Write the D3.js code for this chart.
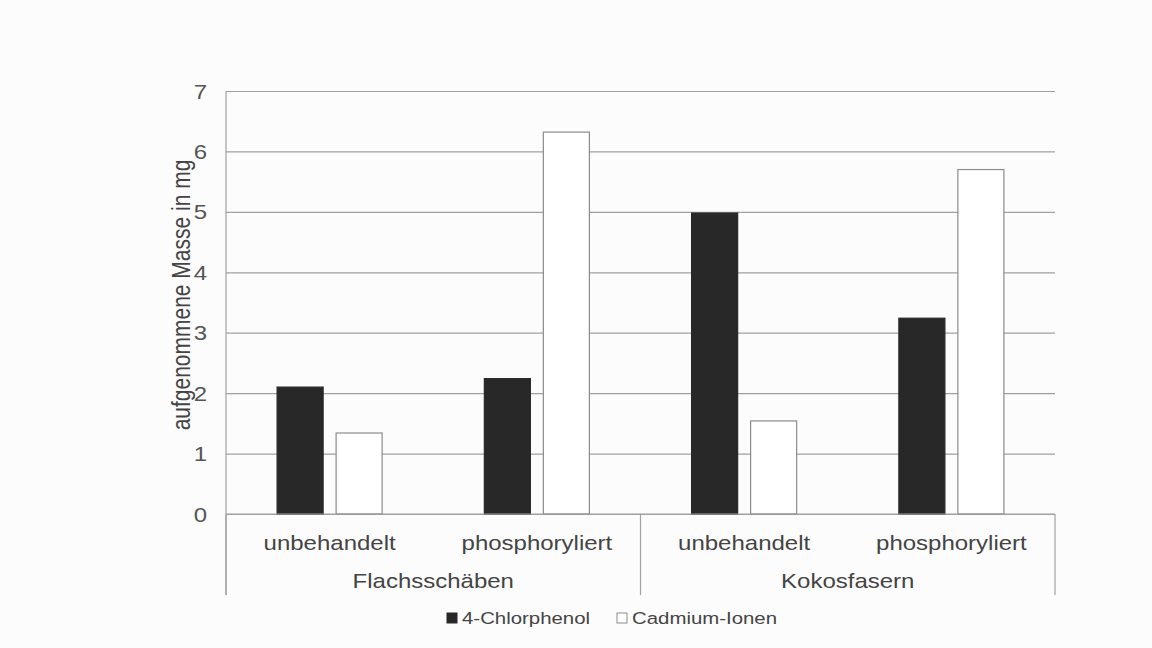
<!DOCTYPE html>
<html>
<head>
<meta charset="utf-8">
<script src="https://cdn.jsdelivr.net/npm/d3@7"></script>
<style>
  html, body { margin: 0; padding: 0; background: #fcfcfc; }
  svg { display: block; }
  text { font-family: "Liberation Sans", Arial, sans-serif; fill: #444; }
</style>
</head>
<body>
<svg id="chart" width="1152" height="648"></svg>
<script>
const groups = ["Flachsschäben", "Kokosfasern"];
const treatments = ["unbehandelt", "phosphoryliert"];
const seriesNames = ["4-Chlorphenol", "Cadmium-Ionen"];
const chlorphenol = [2.10, 2.24, 4.98, 3.24];
const cadmium = [1.34, 6.32, 1.54, 5.70];
const yTicks = [0, 1, 2, 3, 4, 5, 6, 7];
const yTitle = "aufgenommene Masse in mg";

const seriesFill = ["#282828", "#ffffff"];
const seriesStroke = ["#282828", "#8c8c8c"];
const SX = 1.2; // horizontal stretch of the scanned original

const svg = d3.select("#chart");
const margin = { left: 226, right: 1055, top: 91, bottom: 514 };

const cats = [];
groups.forEach(g => treatments.forEach(t => cats.push(g + "|" + t)));
const rows = cats.map((c, i) => ({ cat: c, values: [chlorphenol[i], cadmium[i]] }));

const x0 = d3.scaleBand().domain(cats).range([margin.left, margin.right]).padding(0);
const x1 = d3.scaleBand().domain(seriesNames).range([0, x0.bandwidth()])
  .paddingInner(0.22).paddingOuter(0.866);
const xg = d3.scaleBand().domain(groups).range([margin.left, margin.right]).padding(0);
const y = d3.scaleLinear().domain([0, 7]).range([margin.bottom, margin.top]);

svg.append("rect").attr("width", 1152).attr("height", 648).attr("fill", "#fcfcfc");

// gridlines
svg.append("g")
  .attr("transform", `translate(${margin.left},0)`)
  .call(d3.axisLeft(y).tickValues(yTicks).tickSize(-(margin.right - margin.left)).tickFormat(""))
  .call(g => g.select(".domain").remove())
  .call(g => g.selectAll("line").attr("stroke", "#a0a0a0").attr("stroke-width", 1.2));

// y tick labels
svg.append("g")
  .attr("transform", `translate(${margin.left},0)`)
  .call(d3.axisLeft(y).tickValues(yTicks).tickSize(0).tickPadding(0).tickFormat(d3.format("d")))
  .call(g => g.select(".domain").remove())
  .call(g => g.selectAll("text")
    .attr("x", 0).attr("dy", "0.35em")
    .attr("transform", `translate(-19,0) scale(${SX},1)`)
    .style("font-size", "20px").style("fill", "#555")
    .style("font-family", '"Liberation Sans", Arial, sans-serif'));

// left axis line (plot + category area)
svg.append("line")
  .attr("x1", margin.left).attr("x2", margin.left)
  .attr("y1", y(7)).attr("y2", 595)
  .attr("stroke", "#a0a0a0").attr("stroke-width", 1.2);

// bars
const bars = svg.append("g");
rows.forEach(r => {
  bars.selectAll(null)
    .data(r.values.map((v, i) => ({ v, s: seriesNames[i], i })))
    .join("rect")
    .attr("x", d => x0(r.cat) + x1(d.s))
    .attr("width", x1.bandwidth())
    .attr("y", d => y(d.v))
    .attr("height", d => y(0) - y(d.v))
    .attr("fill", d => seriesFill[d.i])
    .attr("stroke", d => seriesStroke[d.i])
    .attr("stroke-width", 1.2);
});

// category axis baseline
svg.append("line")
  .attr("x1", margin.left).attr("x2", margin.right)
  .attr("y1", y(0)).attr("y2", y(0))
  .attr("stroke", "#a0a0a0").attr("stroke-width", 1.2);

// group separators
const seps = [xg.range()[0], ...groups.slice(1).map(g => xg(g)), xg.range()[1]];
svg.selectAll(null).data(seps).join("line")
  .attr("x1", d => d).attr("x2", d => d)
  .attr("y1", y(0)).attr("y2", 595)
  .attr("stroke", "#a0a0a0").attr("stroke-width", 1.2);

// treatment labels
svg.selectAll(null).data(cats).join("g")
  .attr("transform", d => `translate(${x0(d) + x0.bandwidth() / 2},550)`)
  .append("text")
  .attr("text-anchor", "middle")
  .attr("transform", `scale(${SX},1)`)
  .style("font-size", "20px")
  .text(d => d.split("|")[1]);

// group labels
svg.selectAll(null).data(groups).join("g")
  .attr("transform", d => `translate(${xg(d) + xg.bandwidth() / 2},588)`)
  .append("text")
  .attr("text-anchor", "middle")
  .attr("transform", `scale(${SX},1)`)
  .style("font-size", "20px")
  .text(d => d);

// y title
svg.append("g")
  .attr("transform", `translate(190,295) rotate(-90)`)
  .append("text")
  .attr("text-anchor", "middle")
  .attr("transform", `scale(1,${SX})`)
  .style("font-size", "21px")
  .text(yTitle);

// legend
const legendX = [447, 617];
const leg = svg.selectAll(null).data(seriesNames).join("g")
  .attr("transform", (d, i) => `translate(${legendX[i]},618)`);
leg.append("rect")
  .attr("x", 0).attr("y", -5).attr("width", 10).attr("height", 10)
  .attr("fill", (d, i) => seriesFill[i])
  .attr("stroke", (d, i) => seriesStroke[i]).attr("stroke-width", 1);
leg.append("g").attr("transform", "translate(15,6)")
  .append("text")
  .attr("transform", `scale(${SX},1)`)
  .style("font-size", "17px")
  .text(d => d);
</script>
</body>
</html>
